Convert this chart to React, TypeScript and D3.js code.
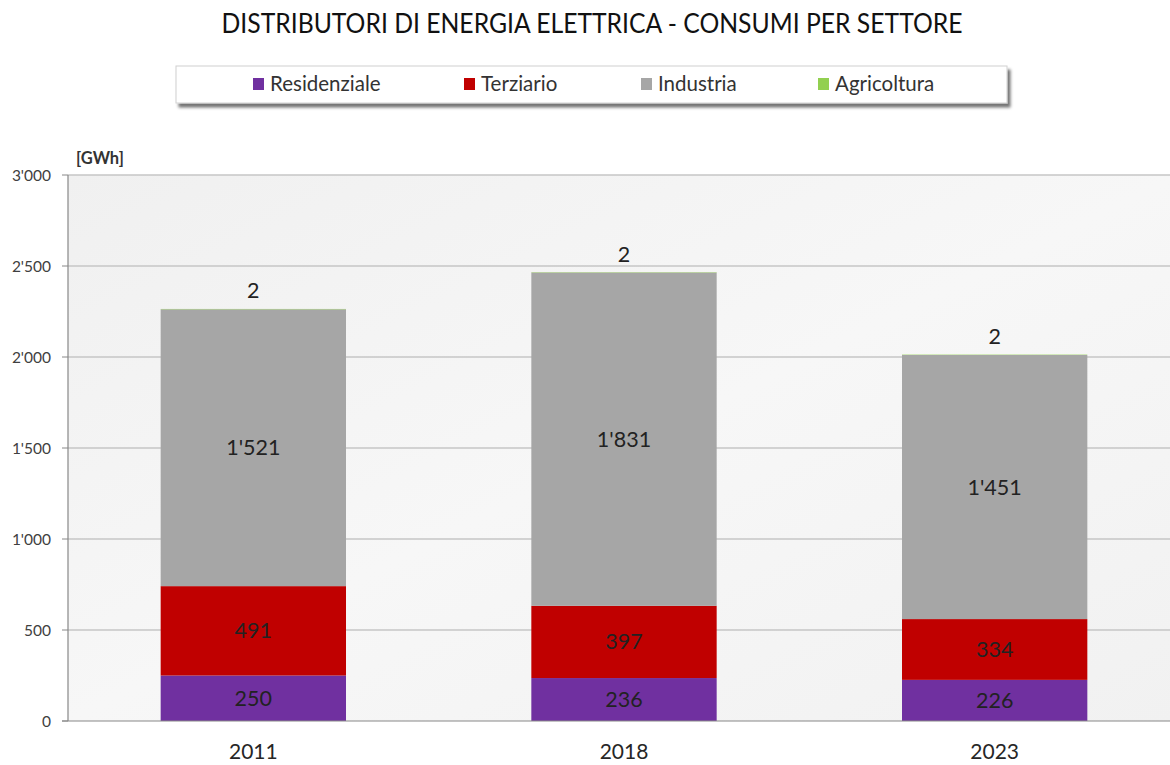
import React from "react";
import * as d3 from "d3";

const years = ["2011", "2018", "2023"];
const series = ["Residenziale", "Terziario", "Industria", "Agricoltura"];
const residenziale = [250, 236, 226];
const terziario = [491, 397, 334];
const industria = [1521, 1831, 1451];
const agricoltura = [2, 2, 2];
const yTicks = [0, 500, 1000, 1500, 2000, 2500, 3000];
const colors = ["#7030a0", "#c00000", "#a6a6a6", "#92d050"];

const fmt = (v: number) => {
  const s = String(v);
  return s.length > 3 ? s.slice(0, s.length - 3) + "'" + s.slice(-3) : s;
};

export default function App() {
  const W = 1170, H = 765;
  const left = 68, right = 1180, top = 175, bottom = 721;
  const x = d3.scaleBand().domain(years).range([left, right]).paddingInner(0.5).paddingOuter(0.25);
  const y = d3.scaleLinear().domain([0, 3000]).range([bottom, top]);
  const rows = years.map((yr, i) => ({
    year: yr,
    Residenziale: residenziale[i],
    Terziario: terziario[i],
    Industria: industria[i],
    Agricoltura: agricoltura[i],
  }));
  const stacked = d3.stack<any>().keys(series)(rows);
  const font = "Lato, 'Open Sans', sans-serif";
  const legendX = [253, 464, 641, 818];

  return (
    <svg width={W} height={H} style={{ position: "absolute", left: 0, top: 0, overflow: "hidden", background: "#fff" }} fontFamily={font}>
      <defs>
        <linearGradient id="bg" x1="0" y1="0" x2="1" y2="1">
          <stop offset="0" stopColor="#f0f0f0" />
          <stop offset="0.5" stopColor="#f7f7f7" />
          <stop offset="1" stopColor="#f1f1f1" />
        </linearGradient>
        <filter id="sh" x="-5%" y="-20%" width="110%" height="160%">
          <feDropShadow dx="3" dy="4" stdDeviation="1.5" floodColor="#000" floodOpacity="0.55" />
        </filter>
      </defs>
      <rect x={0} y={0} width={W} height={H} fill="#fff" />
      <text x={592} y={33} textAnchor="middle" fontSize={26} fill="#111" textLength={741} lengthAdjust="spacingAndGlyphs">
        DISTRIBUTORI DI ENERGIA ELETTRICA - CONSUMI PER SETTORE
      </text>
      <rect x={176} y={66} width={831} height={37} fill="#fff" stroke="#d0d0d0" strokeWidth={1} filter="url(#sh)" />
      {series.map((s, i) => (
        <g key={s}>
          <rect x={legendX[i]} y={78} width={11} height={12} fill={colors[i]} />
          <text x={legendX[i] + 17} y={91} fontSize={20.5} fill="#333">{s}</text>
        </g>
      ))}
      <rect x={left} y={top} width={right - left} height={bottom - top} fill="url(#bg)" />
      {yTicks.map((t) => (
        <g key={t}>
          {t > 0 && <line x1={left} x2={right} y1={y(t)} y2={y(t)} stroke="#c6c6c6" strokeWidth={1.3} />}
          <line x1={62} x2={left} y1={y(t)} y2={y(t)} stroke="#888" strokeWidth={1} />
          <text x={51} y={y(t) + 5.5} textAnchor="end" fontSize={15.5} fill="#404040">{fmt(t)}</text>
        </g>
      ))}
      <text x={76} y={164} fontSize={16.5} fontWeight="bold" fill="#333">[GWh]</text>
      {stacked.map((layer, si) =>
        layer.map((d, i) => (
          <rect key={si + "-" + i} x={x(years[i])!} width={x.bandwidth()} y={y(d[1])} height={Math.max(0, y(d[0]) - y(d[1]))} fill={colors[si]} />
        ))
      )}
      {stacked.map((layer, si) =>
        layer.map((d, i) => {
          const cx = x(years[i])! + x.bandwidth() / 2;
          const v = d[1] - d[0];
          const cy = si === 3 ? y(d[1]) - 18 : (y(d[0]) + y(d[1])) / 2;
          return (
            <text key={"l" + si + "-" + i} x={cx} y={cy + 7.5} textAnchor="middle" fontSize={21.5} fill="#222">{fmt(v)}</text>
          );
        })
      )}
      <line x1={left} x2={left} y1={top} y2={bottom} stroke="#888" strokeWidth={1.2} />
      <line x1={62} x2={right} y1={bottom} y2={bottom} stroke="#888" strokeWidth={1.2} />
      {years.map((yr) => (
        <text key={yr} x={x(yr)! + x.bandwidth() / 2} y={759} textAnchor="middle" fontSize={21} fill="#262626">{yr}</text>
      ))}
    </svg>
  );
}
